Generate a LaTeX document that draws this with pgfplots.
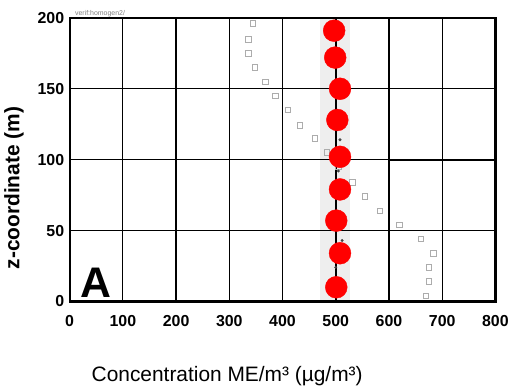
\documentclass[border=0pt]{standalone}
\usepackage{pgfplots}
\pgfplotsset{compat=1.18}
\usepackage{fontspec}
\setmainfont{Liberation Sans}
\setsansfont{Liberation Sans}
\begin{document}
\begin{tikzpicture}
\begin{axis}[
  scale only axis,
  width=428pt, height=285pt,
  xmin=0, xmax=800, ymin=0, ymax=200,
  xtick={0,100,...,800}, ytick={0,50,...,200},
  major tick length=0pt,
  grid=major,
  major grid style={black, line width=1.2pt},
  axis line style={black, line width=2.2pt},
  /pgf/number format/assume math mode=true,
  ticklabel style={font=\fontsize{16}{18}\selectfont\bfseries},
  xticklabel style={yshift=-10pt},
  yticklabel style={xshift=-2pt},
  xlabel={Concentration ME/m³ (µg/m³)},
  xlabel style={font=\fontsize{21}{24}\selectfont, at={(axis description cs:0.37,0)}, anchor=center, yshift=-75pt},
  ylabel={\textbf{z-coordinate (m)}},
  ylabel style={font=\fontsize{21}{24}\selectfont, at={(axis description cs:0,0.40)}, anchor=center, yshift=56pt},
  clip=false,
  axis on top=true,
]
% light gray band around 500
\addplot[fill=gray!13, draw=none] coordinates {(471,0) (527,0) (527,200) (471,200)} -- cycle;
% thicker grid segments
\addplot[black, line width=2pt] coordinates {(600,0) (600,100)};
\addplot[black, line width=2pt] coordinates {(600,100) (800,100)};
\addplot[black, line width=1.8pt] coordinates {(0,50) (500,50)};
% squares
\addplot[only marks, mark=square, mark size=2.8pt, gray!65, mark options={line width=0.8pt}] coordinates {
(344,196) (336,185) (336,175) (348,165) (368,155) (387,145) (410,135) (433,124)
(461,115) (483,105) (505,95) (531,84) (555,74) (583,64) (620,54) (660,44)
(684,34) (675,24) (675,14) (669,4)
};
% small dark points
\addplot[only marks, mark=*, mark size=1.3pt, gray!50!black] coordinates {(508,114) (505,92) (512,43) (500,24)};
% red dots
\addplot[only marks, mark=*, mark size=11pt, red, mark options={draw=none, fill=red}] coordinates {
(497,191) (499,172) (508,150) (503,128) (508,102) (508,79) (501,57) (508,34) (501,10)
};
\addplot[black, line width=1.6pt] coordinates {(500,0) (500,200)};
\node[anchor=south west, font=\fontsize{7}{8}\selectfont, text=gray, inner sep=1pt] at (axis description cs:0.01,1) {verif:homogen2/};
\node[font=\fontsize{43}{46}\selectfont\bfseries, inner sep=0pt] at (axis cs:50,13) {A};
\end{axis}
\path (current axis.south west) ++(-70pt,-88pt) rectangle ++(512pt,391pt);
\end{tikzpicture}
\end{document}
